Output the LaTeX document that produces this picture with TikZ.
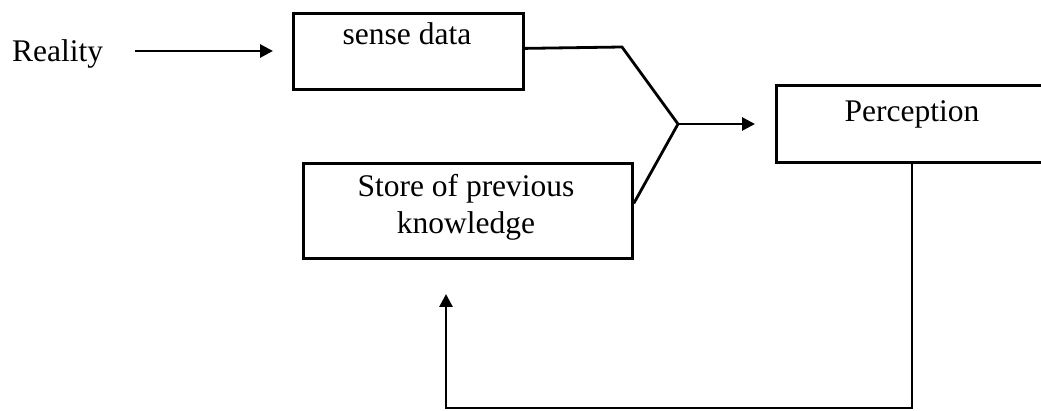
\documentclass[tikz,border=0pt]{standalone}
\usepackage{fontspec}
\setmainfont{Liberation Serif}
\usetikzlibrary{arrows.meta}
\begin{document}
\begin{tikzpicture}[x=1pt,y=-1pt,
  box/.style={draw, line width=2.8pt, inner sep=0pt, anchor=north west},
  txt/.style={inner sep=0pt, font=\fontsize{31.5}{37}\selectfont},
  wire/.style={line width=2.8pt, line join=miter},
  arr/.style={wire, -{Triangle[length=13pt,width=13pt]}}]
\useasboundingbox (0,0) rectangle (1041,411);
\clip (0,0) rectangle (1041,411);

% input
\node[txt, anchor=base west] (reality) at (12,62) {Reality};
\coordinate (rstart) at (135,51);
\coordinate (rend) at (273,51);
\draw[arr] (rstart) -- (rend);

% sense data box
\node[box, minimum width=230, minimum height=76] (sense) at (292,12) {};
\node[txt, anchor=base] (sensetxt) at (407,45) {sense data};

% store of previous knowledge
\node[box, minimum width=329, minimum height=95] (store) at (302,162) {};
\node[txt, align=center, anchor=north] (storetxt) at (466,174) {Store of previous\\knowledge};

% perception box (open to the right)
\node[box, minimum width=285, minimum height=77] (perc) at (775,84) {};
\node[txt, anchor=base] (perctxt) at (912,122) {Perception};

% merging of the two inputs
\coordinate (sout) at ([yshift=3pt]sense.east);
\coordinate (sbend) at (622,47);
\coordinate (fork) at (678,124);
\coordinate (stout) at ([yshift=7.5pt]store.east);
\coordinate (pin) at (755,124);
\draw[wire] (sout) -- (sbend) -- (fork) -- (stout);
\draw[arr] (fork) -- (pin);

% feedback loop
\coordinate (down) at (912,408);
\coordinate (pout) at (down |- perc.south);
\coordinate (corner) at (446,408);
\coordinate (back) at (446,294);
\draw[arr] (pout) -- (down) -- (corner) -- (back);
\end{tikzpicture}
\end{document}
